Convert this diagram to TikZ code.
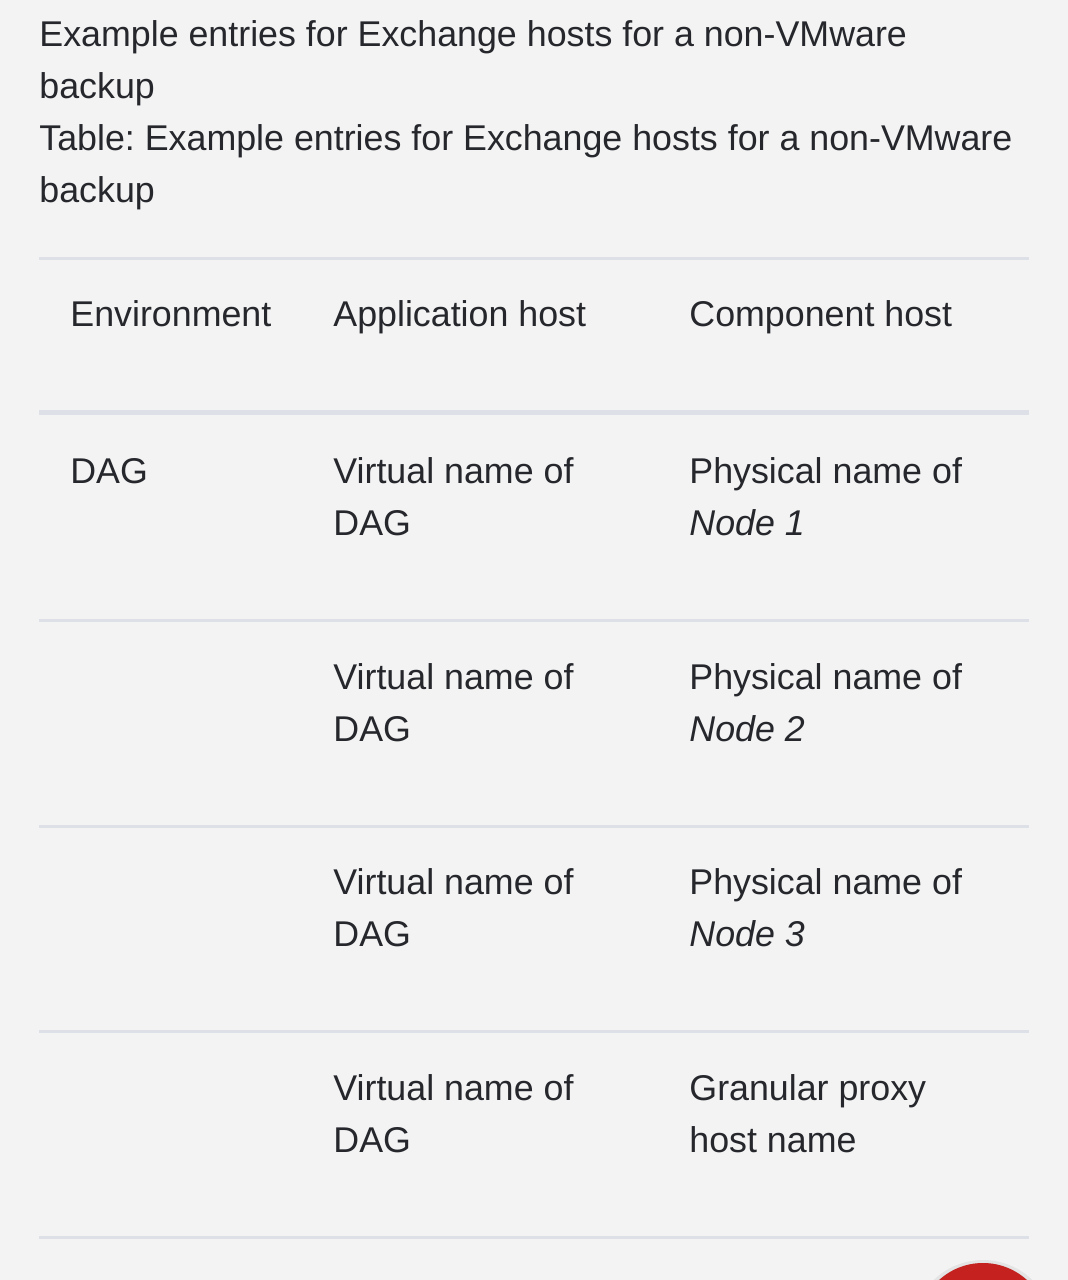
\documentclass[tikz,border=0pt]{standalone}
\usepackage{fontspec}
\setmainfont{Liberation Sans}
\usepackage{xcolor}
\definecolor{pagebg}{HTML}{F3F3F3}
\definecolor{inkgray}{HTML}{25272C}
\definecolor{rulegray}{HTML}{DDE0E6}
\definecolor{fabred}{HTML}{C5221F}
\frenchspacing

\tikzset{
  cell/.style={anchor=base west, inner sep=0pt, align=left, text=inkgray,
    font=\fontsize{17.9}{26}\selectfont},
  rowrule/.style={rulegray, line width=1.5pt},
  headrule/.style={rulegray, line width=2.5pt}
}

\begin{document}
\begin{tikzpicture}[x=0.5pt,y=-0.5pt]
\fill[pagebg] (0,0) rectangle (1068,1280);
\useasboundingbox (0,0) rectangle (1068,1280);

% caption above the table
\node[cell] (cap1) at (39,46) {Example entries for Exchange hosts for a non-VMware};
\node[cell] (cap2) at (39,98) {backup};
\node[cell] (cap3) at (39,150) {Table: Example entries for Exchange hosts for a non-VMware};
\node[cell] (cap4) at (39,202) {backup};

% rules
\draw[rowrule] (39,258) -- (1029,258);
\draw[headrule] (39,412) -- (1029,412);
\foreach \y in {620,826,1031,1237}
  \draw[rowrule] (39,\y) -- (1029,\y);

% header
\node[cell] (henv) at (70,326) {Environment};
\node[cell] (happ) at (333,326) {Application host};
\node[cell] (hcomp) at (689,326) {Component host};

% rows (base = last line of each cell)
\node[cell] (env1) at (70,483) {DAG};
\foreach \i/\y in {1/535,2/741,3/946}{
  \node[cell] (app\i) at (333,\y) {Virtual name of\\DAG};
  \node[cell] (comp\i) at (689,\y) {Physical name of\\\textit{Node \i}};
}
\node[cell] (app4) at (333,1152) {Virtual name of\\DAG};
\node[cell] (comp4) at (689,1152) {Granular proxy\\host name};

% floating button, cut by the page edge
\begin{scope}
\clip (0,0) rectangle (1068,1280);
\fill[black, opacity=0.06] (983,1331) circle (71);
\fill[black, opacity=0.08] (983,1330) circle (67);
\fill[fabred] (983,1328) circle (65);
\end{scope}
\end{tikzpicture}
\end{document}
